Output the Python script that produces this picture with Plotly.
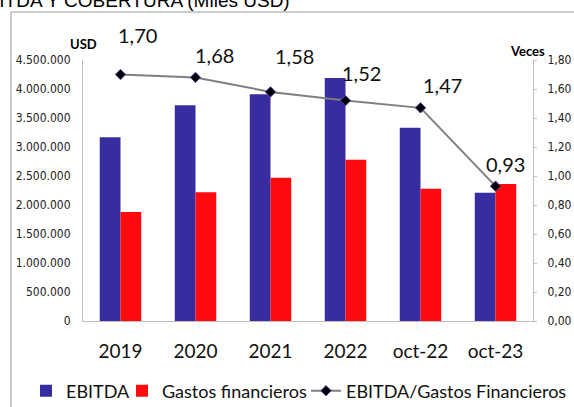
import plotly.graph_objects as go

# data
periods = ['2019', '2020', '2021', '2022', 'oct-22', 'oct-23']
ebitda = [3170000, 3720000, 3910000, 4190000, 3330000, 2210000]
gastos = [1880000, 2220000, 2470000, 2780000, 2280000, 2360000]
cobertura = [1.70, 1.68, 1.58, 1.52, 1.47, 0.93]
cobertura_txt = ['1,70', '1,68', '1,58', '1,52', '1,47', '0,93']
# label offsets (px) like the hand-moved Excel labels
label_dx = [17, 19, 24, 16, 22, 10]
label_dy = [-40, -22, -36, -28, -23, -22]

W, H = 574, 407
L, R, T, B = 83, 41, 60, 86
pw, ph = W - L - R, H - T - B

FONT = 'Lato, sans-serif'


def px_x(x):
    return (x - L) / pw


def px_y(y):
    return (H - B - y) / ph


fig = go.Figure()
fig.add_trace(go.Bar(x=periods, y=ebitda, name='EBITDA', legend='legend',
                     marker=dict(color='#372DA0', line=dict(width=0))))
fig.add_trace(go.Bar(x=periods, y=gastos, name='Gastos financieros', legend='legend2',
                     marker=dict(color='#FF0A0F', line=dict(width=0))))
fig.add_trace(go.Scatter(x=periods, y=cobertura, name='EBITDA/Gastos Financieros',
                         yaxis='y2', mode='lines+markers', legend='legend3',
                         line=dict(color='#7F7F7F', width=2),
                         marker=dict(symbol='diamond', size=8, color='black',
                                     line=dict(color='#5B3FA8', width=1))))

# category axis: annotations take the category index
for i, (v, t, dx, dy) in enumerate(zip(cobertura, cobertura_txt, label_dx, label_dy)):
    fig.add_annotation(x=i, y=v, yref='y2', text=t, showarrow=True, arrowcolor='rgba(0,0,0,0)',
                       ax=dx, ay=dy, font=dict(family=FONT, size=20, color='#111'))

# title clipped at the top, frame lines, axis unit labels
fig.add_annotation(xref='paper', yref='paper', x=px_x(292), y=px_y(0), xanchor='right',
                   yanchor='middle', showarrow=False, text='EBITDA Y COBERTURA (Miles USD)',
                   font=dict(family='Liberation Sans', size=19, color='black'))
fig.add_annotation(xref='paper', yref='paper', x=px_x(68), y=px_y(34), showarrow=False,
                   text='<b>USD</b>', font=dict(family=FONT, size=13, color='black'))
fig.add_annotation(xref='paper', yref='paper', x=px_x(547), y=px_y(41), showarrow=False,
                   text='<b>Veces</b>', font=dict(family=FONT, size=13, color='black'))
fig.add_shape(type='line', xref='paper', yref='paper', x0=px_x(11), x1=px_x(11),
              y0=px_y(12), y1=px_y(410), line=dict(color='#999', width=1))
fig.add_shape(type='line', xref='paper', yref='paper', x0=px_x(11), x1=px_x(580),
              y0=px_y(12), y1=px_y(12), line=dict(color='#999', width=1))

legend_font = dict(family=FONT, size=18, color='#111')
legend_y = px_y(391)

fig.update_layout(
    width=W, height=H,
    margin=dict(l=L, r=R, t=T, b=B, autoexpand=False),
    paper_bgcolor='white', plot_bgcolor='white',
    separators=',.',
    barmode='group', bargap=0.447, bargroupgap=0,
    font=dict(family='DejaVu Sans Condensed', size=12, color='#222'),
    xaxis=dict(type='category', range=[-0.5, 5.5], showgrid=False, showline=True,
               linecolor='#BFBFBF', ticks='', ticklabelstandoff=13,
               tickfont=dict(family=FONT, size=19, color='#111'), automargin=False),
    yaxis=dict(range=[0, 4500000], dtick=500000, tickformat=',d', showgrid=False,
               showline=True, linecolor='#BFBFBF', ticks='', zeroline=False, automargin=False,
               ticklabelstandoff=9,
               tickfont=dict(family='DejaVu Sans Condensed', size=12, color='#222')),
    yaxis2=dict(range=[0, 1.8], dtick=0.2, tickformat='.2f', overlaying='y', side='right',
                showgrid=False, showline=True, linecolor='#BFBFBF', ticks='outside',
                ticklen=3, tickcolor='#BFBFBF', zeroline=False, automargin=False,
                ticklabelstandoff=8,
                tickfont=dict(family='DejaVu Sans Condensed', size=12, color='#222')),
    legend=dict(x=px_x(26), xanchor='left', y=legend_y, yanchor='middle',
                font=legend_font, bgcolor='rgba(0,0,0,0)'),
    legend2=dict(x=px_x(122), xanchor='left', y=legend_y, yanchor='middle',
                 font=legend_font, bgcolor='rgba(0,0,0,0)'),
    legend3=dict(x=px_x(306), xanchor='left', y=legend_y, yanchor='middle',
                 font=legend_font, bgcolor='rgba(0,0,0,0)'),
    showlegend=True,
)

fig.write_html('out.html', config={'displayModeBar': False},
               post_script="document.body.style.margin='0px';")
